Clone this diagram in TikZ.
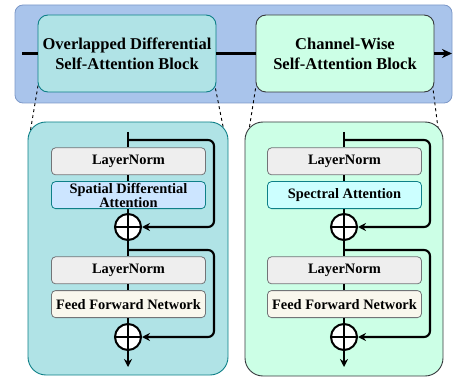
\documentclass[tikz,border=0pt]{standalone}
\usepackage{fontspec}
\setmainfont{Liberation Serif}
\usetikzlibrary{arrows.meta, positioning, calc}

\definecolor{bandfill}{HTML}{A9C4EB}
\definecolor{bandedge}{HTML}{7C98C8}
\definecolor{tealfill}{HTML}{B0E3E6}
\definecolor{tealedge}{HTML}{0E8088}
\definecolor{mintfill}{HTML}{CCFFE6}
\definecolor{darkedge}{HTML}{36393D}
\definecolor{lnfill}{HTML}{EEEEEE}
\definecolor{spatfill}{HTML}{CCE5FF}
\definecolor{specfill}{HTML}{CCFFFF}
\definecolor{ffnfill}{HTML}{F9F7ED}

\pgfdeclarelayer{back}
\pgfdeclarelayer{mid}
\pgfsetlayers{back,mid,main}

\tikzset{
    band_box/.style={
        rectangle, rounded corners=8pt, fill=bandfill, draw=bandedge, line width=0.8pt
    },
    blk_box/.style={
        rectangle, rounded corners=10pt, line width=0.9pt,
        minimum width=178pt, minimum height=77pt, inner sep=0pt,
        align=center, font=\fontsize{16.5}{20}\selectfont\bfseries
    },
    blk_teal/.style={blk_box, fill=tealfill, draw=tealedge},
    blk_mint/.style={blk_box, fill=mintfill, draw=darkedge},
    panel_box/.style={
        rectangle, rounded corners=18pt, line width=0.9pt
    },
    layer_box/.style={
        rectangle, rounded corners=4pt, line width=0.8pt,
        minimum width=154pt, minimum height=27pt, inner sep=0pt,
        align=center, font=\fontsize{14.4}{12}\selectfont\bfseries
    },
    ln_box/.style={layer_box, fill=lnfill, draw=darkedge!70},
    spat_box/.style={layer_box, fill=spatfill, draw=tealedge},
    spec_box/.style={layer_box, fill=specfill, draw=tealedge},
    ffn_box/.style={layer_box, fill=ffnfill, draw=darkedge!70},
    add_op/.style={
        circle, draw=black, line width=2pt, fill=white,
        minimum size=26pt, inner sep=0pt,
        path picture={
            \draw[line width=1.8pt]
                (path picture bounding box.north) -- (path picture bounding box.south)
                (path picture bounding box.west) -- (path picture bounding box.east);
        }
    },
    trunk/.style={line width=2.1pt, draw=black},
    flow/.style={trunk, -{Stealth[length=8pt, width=8pt]}},
    skip/.style={flow, rounded corners=6pt},
    zoom_line/.style={dashed, dash pattern=on 3pt off 3pt, line width=0.9pt, draw=black}
}

\begin{document}
\begin{tikzpicture}[x=1pt, y=-1pt, >=Stealth]
    \useasboundingbox (0,0) rectangle (454,379);

    % outer band with the two blocks
    \begin{pgfonlayer}{back}
        \node[band_box, minimum width=437pt, minimum height=98pt] (band) at (233.5,54) {};
    \end{pgfonlayer}

    \node[blk_teal] (blk1) at (127,53.5) {Overlapped Differential\\Self-Attention Block};
    \node[blk_mint] (blk2) at (345,53.5) {Channel-Wise\\Self-Attention Block};

    \coordinate (src) at (22,53.5);
    \coordinate (dst) at (452,53.5);
    \draw[trunk] (src) -- (blk1);
    \draw[trunk] (blk1) -- (blk2);
    \draw[trunk, -{Stealth[length=10pt, width=9pt]}] (blk2) -- (dst);

    % expanded views
    \node[panel_box, fill=tealfill, draw=tealedge, minimum width=200pt, minimum height=253pt] (pnl1) at (128,248.5) {};
    \node[panel_box, fill=mintfill, draw=darkedge, minimum width=198pt, minimum height=254pt] (pnl2) at (344,249) {};

    % left block internals
    \node[ln_box] (ln1) at (128.5,161.3) {LayerNorm};
    \node[spat_box, below=6pt of ln1] (att1) {Spatial Differential\\Attention};
    \node[add_op] (add1) at (128,227) {};
    \node[ln_box] (ln2) at (128.5,270.3) {LayerNorm};
    \node[ffn_box, below=6pt of ln2] (ffn1) {Feed Forward Network};
    \node[add_op] (add2) at (128,337) {};

    \coordinate (top1) at (128,132);
    \coordinate (br1) at (128,140);
    \coordinate (br2) at (128,250);
    \coordinate (end1) at (128,367);

    \draw[trunk] (top1) -- (top1 |- ln1.north);
    \draw[trunk] (top1 |- ln1.south) -- (top1 |- att1.north);
    \draw[trunk] (top1 |- att1.south) -- (add1);
    \draw[trunk] (add1) -- (top1 |- ln2.north);
    \draw[trunk] (top1 |- ln2.south) -- (top1 |- ffn1.north);
    \draw[trunk] (top1 |- ffn1.south) -- (add2);
    \draw[flow] (add2) -- (end1);
    \draw[skip] (br1) -- ++(86,0) |- (add1.east);
    \draw[skip] (br2) -- ++(86,0) |- (add2.east);

    % right block internals
    \node[ln_box] (ln3) at (344.5,161.3) {LayerNorm};
    \node[spec_box, below=6pt of ln3] (att2) {Spectral Attention};
    \node[add_op] (add3) at (344,227) {};
    \node[ln_box] (ln4) at (344.5,270.3) {LayerNorm};
    \node[ffn_box, below=6pt of ln4] (ffn2) {Feed Forward Network};
    \node[add_op] (add4) at (344,337) {};

    \coordinate (top2) at (344,132);
    \coordinate (br3) at (344,140);
    \coordinate (br4) at (344,250);
    \coordinate (end2) at (344,367);

    \draw[trunk] (top2) -- (top2 |- ln3.north);
    \draw[trunk] (top2 |- ln3.south) -- (top2 |- att2.north);
    \draw[trunk] (top2 |- att2.south) -- (add3);
    \draw[trunk] (add3) -- (top2 |- ln4.north);
    \draw[trunk] (top2 |- ln4.south) -- (top2 |- ffn2.north);
    \draw[trunk] (top2 |- ffn2.south) -- (add4);
    \draw[flow] (add4) -- (end2);
    \draw[skip] (br3) -- ++(86,0) |- (add3.east);
    \draw[skip] (br4) -- ++(86,0) |- (add4.east);

    % dashed zoom guides
    \begin{pgfonlayer}{mid}
        \draw[zoom_line] ($(blk1.south west)+(0.5,-7)$) -- ($(pnl1.north west)+(1,20)$);
        \draw[zoom_line] ($(blk1.south east)+(-1,-4)$) -- ($(pnl1.north east)+(-2,22)$);
        \draw[zoom_line] ($(blk2.south west)+(0,-4)$) -- ($(pnl2.north west)+(2,24)$);
        \draw[zoom_line] ($(blk2.south east)+(-2,-8)$) -- ($(pnl2.north east)+(-4,18)$);
    \end{pgfonlayer}

\end{tikzpicture}
\end{document}
